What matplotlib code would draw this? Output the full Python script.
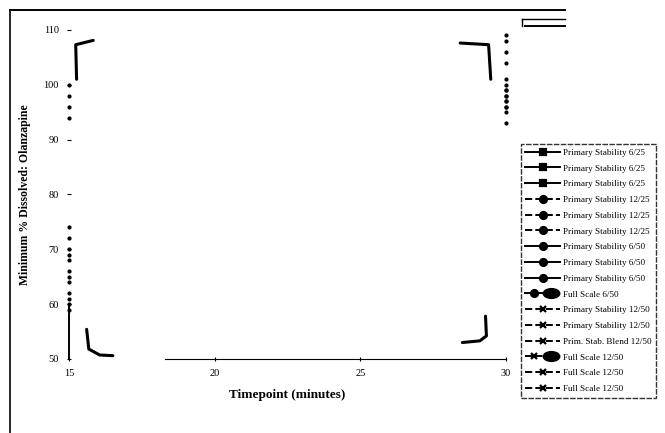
import matplotlib
matplotlib.use("Agg")
import matplotlib.pyplot as plt
from matplotlib.lines import Line2D
from matplotlib.markers import MarkerStyle
from matplotlib.transforms import Affine2D
from matplotlib.legend_handler import HandlerTuple

plt.rcParams['font.family'] = ['Liberation Serif', 'DejaVu Serif']

timepoints = [15, 30]
series_labels = [
    "Primary Stability 6/25", "Primary Stability 6/25", "Primary Stability 6/25",
    "Primary Stability 12/25", "Primary Stability 12/25", "Primary Stability 12/25",
    "Primary Stability 6/50", "Primary Stability 6/50", "Primary Stability 6/50",
    "Full Scale 6/50",
    "Primary Stability 12/50", "Primary Stability 12/50", "Prim. Stab. Blend 12/50",
    "Full Scale 12/50", "Full Scale 12/50", "Full Scale 12/50",
]
dissolved_15 = [59, 60, 61, 64, 66, 68, 70, 72, 74, 94, 62, 65, 69, 96, 98, 100]
dissolved_30 = [97, 98, 96, 99, 100, 95, 97, 99, 101, 104, 93, 96, 98, 106, 108, 109]
line_styles = ['-'] * 3 + ['--'] * 3 + ['-'] * 4 + ['--'] * 6
markers = ['s'] * 3 + ['o'] * 7 + ['x'] * 6
bubble = [False] * 9 + [True] + [False] * 3 + [True] + [False] * 2

x_ticks = [15, 20, 25, 30]
y_ticks = [50, 60, 70, 80, 90, 100, 110]

fig = plt.figure(figsize=(6.65, 4.33), dpi=100)
ax = fig.add_axes([0.104, 0.171, 0.657, 0.760])

for i, lab in enumerate(series_labels):
    ax.plot(timepoints, [dissolved_15[i], dissolved_30[i]], linestyle='none',
            marker='o', markersize=2.0, color='black', clip_on=False)

ax.set_xlim(15, 30)
ax.set_ylim(50, 110)
ax.set_xticks(x_ticks)
ax.set_yticks(y_ticks)
ax.tick_params(labelsize=7.5, length=3, direction='inout', width=0.8, pad=6)
for s in ['top', 'right']:
    ax.spines[s].set_visible(False)
ax.spines['bottom'].set_bounds(18.3, 30)
ax.spines['left'].set_bounds(50, 60)
ax.spines['left'].set_linewidth(1.4)
ax.set_xlabel("Timepoint (minutes)", fontsize=9.5, fontweight='bold', labelpad=8)
ax.set_ylabel("Minimum % Dissolved: Olanzapine", fontsize=8.5, fontweight='bold', labelpad=9)

# corner crop marks inside the plotting area
crop_kw = dict(transform=ax.transAxes, color='black', lw=2.2, solid_capstyle='round', clip_on=False)
ax.add_line(Line2D([0.017, 0.015, 0.055], [0.85, 0.955, 0.968], **crop_kw))
ax.add_line(Line2D([0.895, 0.96, 0.965], [0.96, 0.955, 0.85], **crop_kw))
ax.add_line(Line2D([0.04, 0.045, 0.07, 0.10], [0.09, 0.03, 0.012, 0.01], **crop_kw))
ax.add_line(Line2D([0.90, 0.94, 0.955, 0.953], [0.05, 0.055, 0.07, 0.13], **crop_kw))

# legend
wide_dot = MarkerStyle('o', transform=Affine2D().scale(1.7, 1.0))
handles = []
for ls, mk, bb in zip(line_styles, markers, bubble):
    h = Line2D([], [], color='black', linestyle=ls, lw=1.4, marker=mk,
               markersize=5, markeredgewidth=1.6)
    if bb:
        e = Line2D([], [], color='black', linestyle='none', marker=wide_dot,
                   markersize=7, markerfacecolor='black')
        handles.append((h, e))
    else:
        handles.append(h)

leg = fig.legend(handles, series_labels, loc='upper left',
                 bbox_to_anchor=(0.783, 0.668), fontsize=6.6,
                 handler_map={tuple: HandlerTuple(ndivide=None, pad=0.0)},
                 handlelength=3.8, handletextpad=0.3, labelspacing=0.8,
                 frameon=True, fancybox=False, edgecolor='black',
                 borderpad=0.5, borderaxespad=0)
leg.get_frame().set_linewidth(1.0)
leg.get_frame().set_linestyle((0, (4, 1)))

# page frame lines
fig.add_artist(Line2D([0.015, 0.85], [0.978, 0.978], color='black', lw=1.4))
fig.add_artist(Line2D([0.015, 0.015], [0.0, 0.978], color='black', lw=1.2))
fig.add_artist(Line2D([0.785, 0.85], [0.955, 0.955], color='black', lw=1.0))
fig.add_artist(Line2D([0.785, 0.785], [0.94, 0.955], color='black', lw=1.0))
fig.add_artist(Line2D([0.79, 0.85], [0.94, 0.94], color='black', lw=1.4))

fig.savefig("out.png", dpi=100)
